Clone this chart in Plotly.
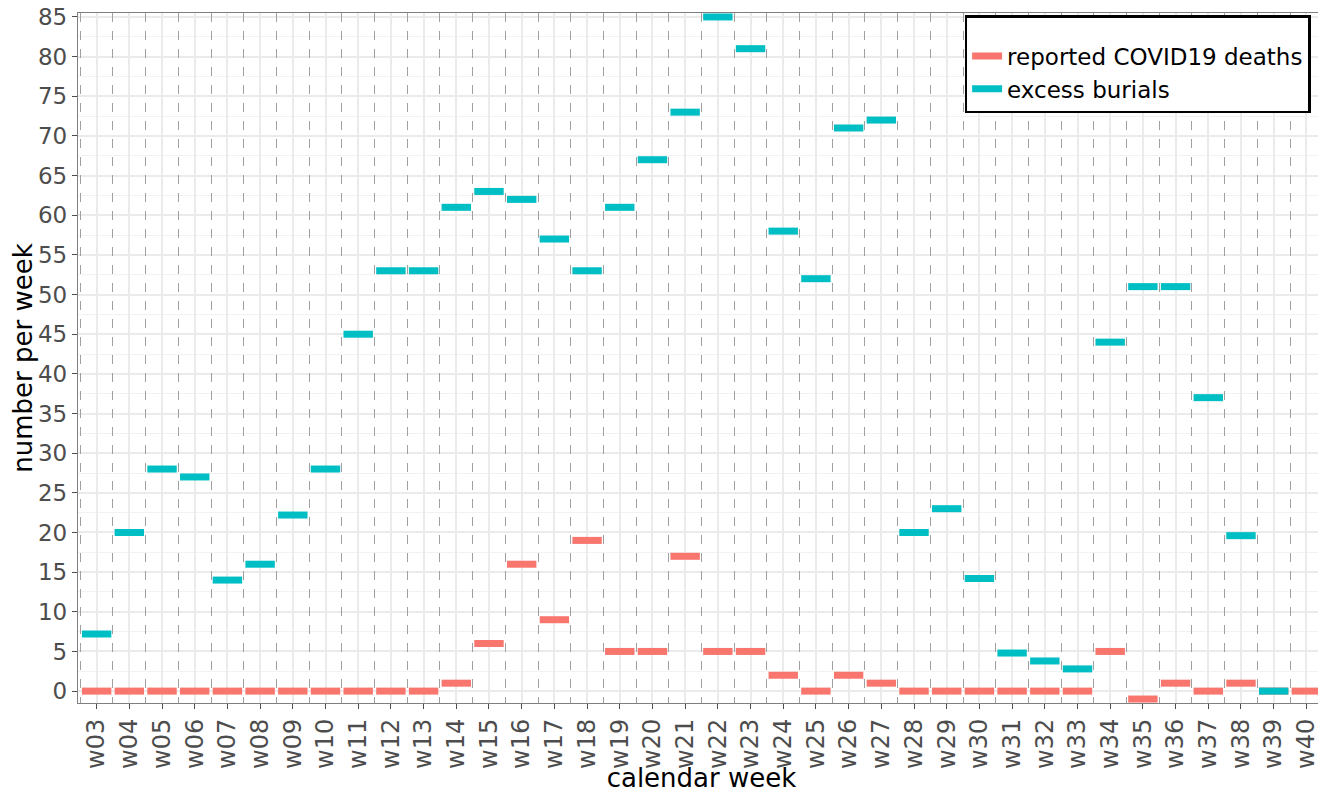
import plotly.graph_objects as go

weeks = ["w%02d" % i for i in range(3, 41)]

covid_deaths = [0, 0, 0, 0, 0, 0, 0, 0, 0, 0, 0, 1, 6, 16, 9, 19, 5, 5, 17, 5,
                5, 2, 0, 2, 1, 0, 0, 0, 0, 0, 0, 5, -1, 1, 0, 1, 0, 0]

excess_burials = [7.2, 20, 28, 27, 14, 16, 22.2, 28, 45, 53, 53, 61, 63, 62, 57, 53, 61, 67, 73, 85,
                  81, 58, 52, 71, 72, 20, 23, 14.2, 4.8, 3.8, 2.8, 44, 51, 51, 37, 19.6, 0, None]

series_names = ["reported COVID19 deaths", "excess burials"]

RED = "#F8766D"
TEAL = "#00BFC4"
FONT = "DejaVu Sans"

fig = go.Figure()

# invisible trace to carry the boundary-line axis
fig.add_trace(go.Scatter(x=[0], y=[0], xaxis="x2", mode="markers",
                         marker=dict(opacity=0), showlegend=False, hoverinfo="skip"))

for name, vals, col in [(series_names[0], covid_deaths, RED), (series_names[1], excess_burials, TEAL)]:
    fig.add_trace(go.Scatter(
        x=weeks, y=vals, mode="markers", name=name, showlegend=False,
        marker=dict(symbol="line-ew", size=21, color=col, line=dict(color=col, width=7)),
    ))

for name, col in [(series_names[0], RED), (series_names[1], TEAL)]:
    fig.add_trace(go.Scatter(
        x=[None], y=[None], mode="lines", name=name,
        line=dict(color=col, width=7),
    ))

xr = [-0.57, 37.57]

fig.update_layout(
    width=1318, height=785,
    margin=dict(l=70, r=1, t=5, b=90),
    paper_bgcolor="white", plot_bgcolor="white",
    font=dict(family=FONT, color="#4d4d4d", size=24),
    xaxis=dict(
        type="category", categoryorder="array", categoryarray=weeks,
        range=xr, tickangle=-90, automargin=False,
        tickfont=dict(size=24, color="#4d4d4d"),
        showgrid=True, gridcolor="#ebebeb", gridwidth=1.5,
        ticks="outside", ticklen=5, tickcolor="#4d4d4d", tickwidth=1,
        showline=True, linecolor="#7f7f7f", linewidth=1.3, mirror=True,
        zeroline=False, ticklabeloverflow="allow",
        title=dict(text="calendar week", font=dict(size=26, color="black"), standoff=0),
    ),
    xaxis2=dict(
        overlaying="x", type="linear", range=xr, tick0=0.5, dtick=1,
        showticklabels=False, showgrid=True, gridcolor="#a0a0a0", griddash="dash",
        gridwidth=1, zeroline=False, showline=False, ticks="",
    ),
    yaxis=dict(
        range=[-1.5, 85.5], tick0=0, dtick=5, automargin=False,
        tickfont=dict(size=23, color="#4d4d4d"),
        showgrid=True, gridcolor="#ebebeb", gridwidth=1.5,
        minor=dict(tick0=2.5, dtick=5, showgrid=True, gridcolor="#f2f2f2", gridwidth=1, ticks=""),
        ticks="outside", ticklen=5, tickcolor="#4d4d4d", tickwidth=1,
        showline=True, linecolor="#7f7f7f", linewidth=1.3, mirror=True,
        zeroline=False, ticklabeloverflow="allow",
        title=dict(text="number per week", font=dict(size=26, color="black"), standoff=7),
    ),
    legend=dict(
        x=0.711, xanchor="left", y=0.997, yanchor="top",
        bgcolor="white", bordercolor="black", borderwidth=2.5,
        font=dict(size=23, color="black"),
        title=dict(text=" ", font=dict(size=13)),
        tracegroupgap=0,
    ),
    showlegend=True,
)

fig.write_html("out.html")
